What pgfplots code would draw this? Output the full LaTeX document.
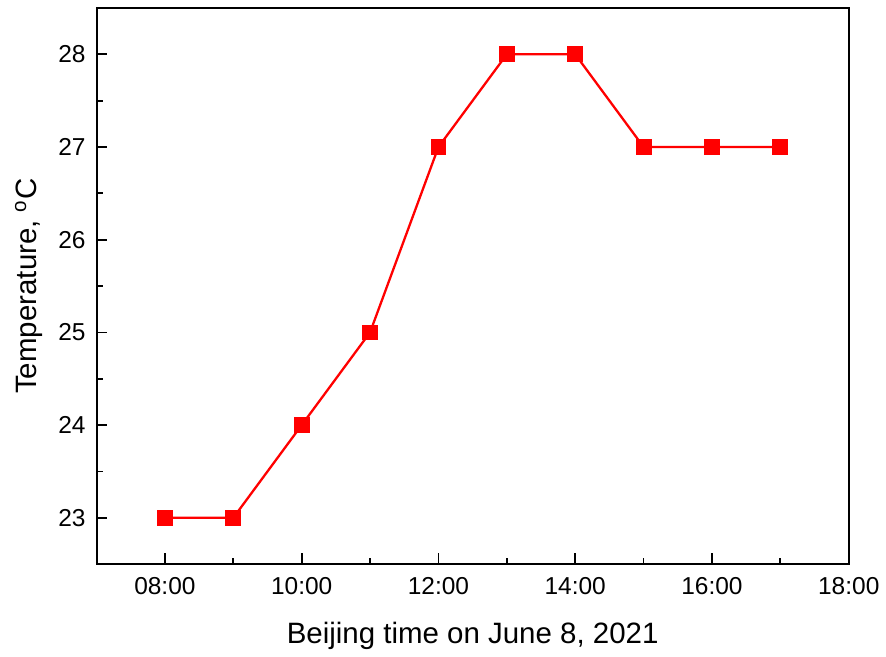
\documentclass[border=0pt]{standalone}
\usepackage{fontspec}
\setmainfont{Liberation Sans}
\usepackage{pgfplots}
\pgfplotsset{compat=1.18}
\begin{document}
\begin{tikzpicture}
\begin{axis}[
  scale only axis,
  width=378pt, height=279.5pt,
  xmin=7, xmax=18, ymin=22.5, ymax=28.5,
  xtick={8,10,12,14,16,18},
  xticklabels={08:00,10:00,12:00,14:00,16:00,18:00},
  minor x tick num=1,
  ytick={23,24,25,26,27,28},
  minor y tick num=1,
  xtick pos=bottom, ytick pos=left,
  tick align=inside,
  major tick length=5.5pt,
  minor tick length=3.3pt,
  every tick/.style={black, line width=0.9pt},
  axis line style={line width=1pt},
  /pgf/number format/assume math mode=true,
  ticklabel style={font=\fontsize{12.3}{14}\selectfont},
  xticklabel style={yshift=-3pt},
  yticklabel style={xshift=-2pt},
  label style={font=\fontsize{14.8}{17}\selectfont},
  xlabel={Beijing time on June 8, 2021},
  ylabel={Temperature, $^{\mathrm{o}}$C},
  xlabel style={yshift=-7pt},
  ylabel style={yshift=1pt},
]
\addplot[color=red, line width=1.15pt, mark=square*, mark size=3.4pt, mark options={solid, fill=red}]
coordinates {
(8,23) (9,23) (10,24) (11,25) (12,27) (13,28) (14,28) (15,27) (16,27) (17,27)
};
\end{axis}
\path (current axis.south west) ++(-48.5pt,-43.5pt) coordinate (bbl);
\path (current axis.north east) ++(16.5pt,4pt) coordinate (btr);
\useasboundingbox (bbl) rectangle (btr);
\end{tikzpicture}
\end{document}
